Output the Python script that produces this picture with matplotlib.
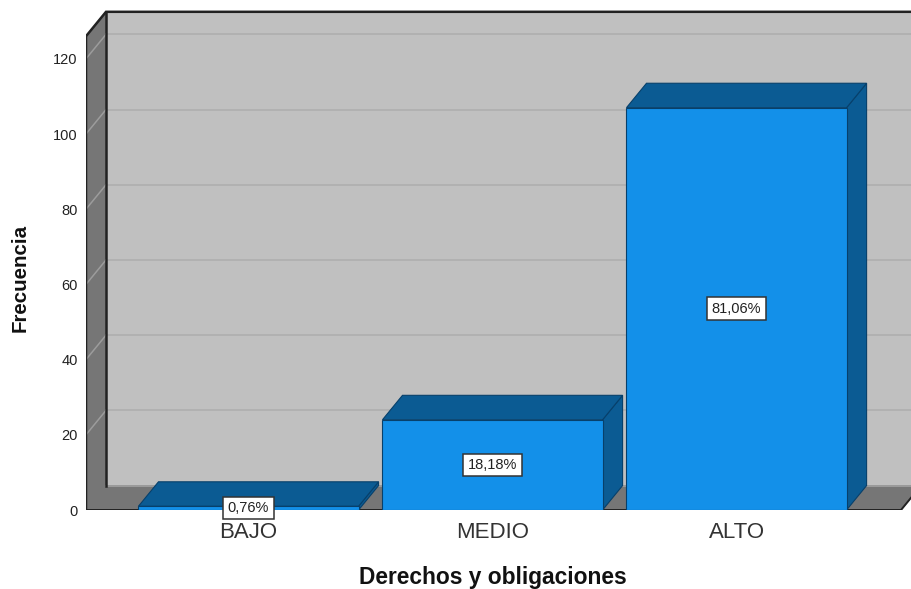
#!/usr/bin/env python3
import matplotlib
matplotlib.use("Agg")
import matplotlib.pyplot as plt
from matplotlib.patches import Polygon

plt.rcParams["font.family"] = ["Liberation Sans", "DejaVu Sans"]

categories = ["BAJO", "MEDIO", "ALTO"]
counts = [1, 24, 107]
pct_labels = ["0,76%", "18,18%", "81,06%"]
y_ticks = [0, 20, 40, 60, 80, 100, 120]

BAR_W = 0.902
DX, DY = 0.082, 6.5      # 3d depth in data units
WALL_TOP = 126
FLOOR_END = 2.674
X0, X1 = -0.666, 2.715
Y1 = 135.64

FRONT = "#1390E9"
DARK = "#0B5B93"
EDGE = "#07406B"
WALL = "#C0C0C0"
SIDE = "#767676"
GRID = "#AEAEAE"
LINE = "#222222"

W, H = 911, 589
fig = plt.figure(figsize=(W / 100, H / 100), dpi=100)
ax = fig.add_axes([86 / W, (H - 510) / H, (W - 86) / W, 510 / H])
ax.set_xlim(X0, X1)
ax.set_ylim(0, Y1)
for s in ax.spines.values():
    s.set_visible(False)


def poly(pts, face, edge=None, lw=0.8, z=1):
    ax.add_patch(Polygon(pts, closed=True, facecolor=face,
                         edgecolor=edge if edge else face, linewidth=lw, zorder=z))


# walls and floor
poly([(X0 + DX, DY), (X1 + 1, DY), (X1 + 1, WALL_TOP + DY), (X0 + DX, WALL_TOP + DY)], WALL)
poly([(X0, 0), (X0 + DX, DY), (X0 + DX, WALL_TOP + DY), (X0, WALL_TOP)], SIDE)
poly([(X0, 0), (FLOOR_END, 0), (FLOOR_END + DX, DY), (X0 + DX, DY)], SIDE)

for t in y_ticks[1:]:
    ax.plot([X0, X0 + DX], [t, t + DY], color="#9C9C9C", lw=1.1, zorder=2)
    ax.plot([X0 + DX, X1], [t + DY, t + DY], color=GRID, lw=1.2, zorder=2)
ax.plot([X0 + DX, X1], [DY, DY], color="#9C9C9C", lw=1.4, zorder=2)

# wall outlines
ax.plot([X0, X0, X0 + DX, X1], [0, WALL_TOP, WALL_TOP + DY, WALL_TOP + DY],
        color=LINE, lw=1.8, zorder=3, solid_joinstyle="miter")
ax.plot([X0 + DX, X0 + DX], [DY, WALL_TOP + DY], color=LINE, lw=1.8, zorder=3)
ax.plot([X0, FLOOR_END, FLOOR_END + DX], [0, 0, DY], color=LINE, lw=1.4, zorder=3)

# bars
for i, c in enumerate(counts):
    l, r = i - BAR_W / 2, i + BAR_W / 2
    poly([(r, 0), (r + DX, DY), (r + DX, c + DY), (r, c)], DARK, EDGE, z=4)
    poly([(l, c), (r, c), (r + DX, c + DY), (l + DX, c + DY)], DARK, EDGE, z=4)
    poly([(l, 0), (r, 0), (r, c), (l, c)], FRONT, EDGE, z=5)

for i, (c, lab) in enumerate(zip(counts, pct_labels)):
    ax.text(i, c / 2, lab, ha="center", va="center", fontsize=10.5, color="#222222", zorder=7,
            bbox=dict(boxstyle="square,pad=0.3", facecolor="white", edgecolor="#333333", linewidth=1.1))

ax.set_yticks(y_ticks)
ax.tick_params(axis="y", length=0, pad=6, labelsize=10.5, labelcolor="#222222")
ax.set_xticks(range(len(categories)))
ax.set_xticklabels(categories)
ax.tick_params(axis="x", length=0, pad=8.5, labelsize=16, labelcolor="#333333")

ax.set_xlabel("Derechos y obligaciones", fontsize=16.4, fontweight="bold", color="#111111")
ax.xaxis.set_label_coords((492.5 - 86) / (W - 86), -(566 - 510) / 510)
ax.set_ylabel("Frecuencia", fontsize=14.8, fontweight="bold", color="#111111")
ax.yaxis.set_label_coords(-(86 - 30) / (W - 86), (510 - 278) / 510)

fig.savefig("out.png", dpi=100)
